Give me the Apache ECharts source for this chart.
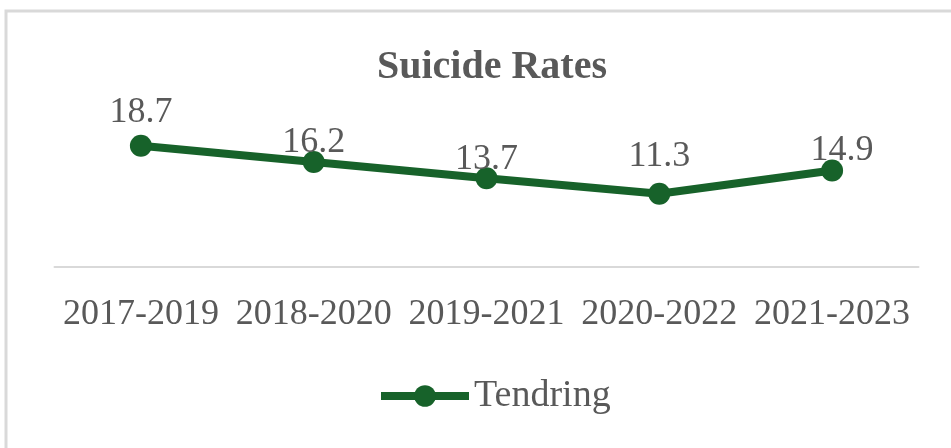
<!DOCTYPE html>
<html>
<head>
<meta charset="utf-8">
<title>Suicide Rates</title>
<script src="https://cdn.jsdelivr.net/npm/echarts@6/dist/echarts.min.js"></script>
<style>
    html, body { margin: 0; padding: 0; background: #fff; }
    #chart { width: 951px; height: 448px; }
</style>
</head>
<body>
<div id="chart"></div>
<script>
// 数据
const periods = ['2017-2019', '2018-2020', '2019-2021', '2020-2022', '2021-2023'];
const tendring = [18.7, 16.2, 13.7, 11.3, 14.9];

const green = '#17622a';
const grey = '#595959';
const serif = 'Liberation Serif';

// label nudges (Excel labels were placed by hand)
const nudges = [[0, -33], [0, -19], [0, -19], [0, -37], [10, -20]];

const chart = echarts.init(document.getElementById('chart'));

chart.setOption({
    animation: false,
    title: {
        text: 'Suicide Rates',
        left: 487,
        top: 43,
        textAlign: 'center',
        textStyle: { fontFamily: serif, fontSize: 40, fontWeight: 'bold', color: grey }
    },
    graphic: [{
        type: 'rect',
        shape: { x: 6, y: 11, width: 960, height: 460 },
        style: { fill: 'none', stroke: '#d9d9d9', lineWidth: 3 },
        silent: true
    }],
    grid: { left: 54.5, right: 32.5, top: 105, bottom: 181 },
    xAxis: {
        type: 'category',
        data: periods,
        boundaryGap: true,
        axisLine: { lineStyle: { color: '#d9d9d9', width: 2 } },
        axisTick: { show: false },
        axisLabel: { interval: 0, margin: 30, fontFamily: serif, fontSize: 36, color: grey }
    },
    yAxis: {
        type: 'value',
        min: 0,
        max: 25,
        show: false,
        splitLine: { show: false }
    },
    legend: {
        data: ['Tendring'],
        left: 372,
        top: 372,
        itemWidth: 88,
        itemHeight: 27,
        itemGap: 10,
        lineStyle: { width: 8 },
        textStyle: { fontFamily: serif, fontSize: 38, color: grey }
    },
    series: [{
        name: 'Tendring',
        type: 'line',
        data: tendring.map((v, i) => ({
            value: v,
            label: { offset: nudges[i] }
        })),
        symbol: 'circle',
        symbolSize: 22,
        lineStyle: { color: green, width: 8 },
        itemStyle: { color: green },
        label: {
            show: true,
            position: 'inside',
            fontFamily: serif,
            fontSize: 36,
            color: grey
        }
    }]
});
</script>
</body>
</html>
